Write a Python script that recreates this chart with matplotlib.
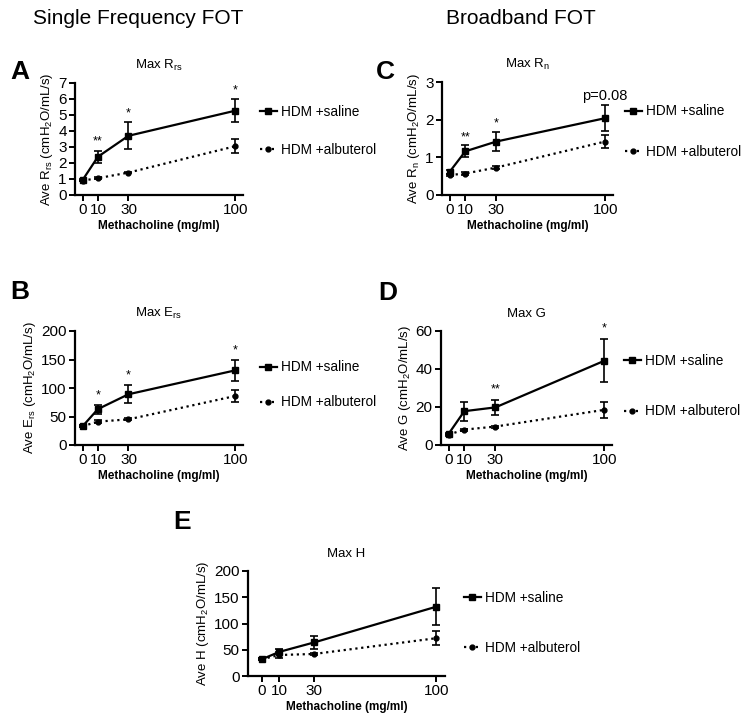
import numpy as np
import matplotlib
matplotlib.use('Agg')
import matplotlib.pyplot as plt
from matplotlib.lines import Line2D

plt.rcParams['font.family'] = ['Liberation Sans', 'DejaVu Sans']
plt.rcParams['mathtext.default'] = 'regular'

W, H = 743, 719

# methacholine doses (mg/ml)
dose = [0, 10, 30, 100]
xticks = [0, 10, 30, 100]

# A: Max Rrs
rrs_sal = [0.94, 2.39, 3.70, 5.27]
rrs_sal_err = [0.08, 0.37, 0.84, 0.72]
rrs_alb = [0.90, 1.05, 1.40, 3.05]
rrs_alb_err = [0.05, 0.05, 0.05, 0.42]
rrs_stars = ['', '**', '*', '*']

# B: Max Ers
ers_sal = [33, 63, 89, 131]
ers_sal_err = [2, 8, 16, 19]
ers_alb = [33, 41, 45, 86]
ers_alb_err = [2, 2, 2, 10]
ers_stars = ['', '*', '*', '*']

# C: Max Rn
rn_sal = [0.62, 1.16, 1.42, 2.04]
rn_sal_err = [0.05, 0.16, 0.26, 0.35]
rn_alb = [0.53, 0.57, 0.73, 1.42]
rn_alb_err = [0.03, 0.05, 0.03, 0.17]
rn_stars = ['', '**', '*', 'p=0.08']

# D: Max G
g_sal = [6, 17.8, 19.8, 44.3]
g_sal_err = [0.5, 5.0, 3.8, 11.3]
g_alb = [5.5, 8.1, 9.7, 18.5]
g_alb_err = [0.5, 0.5, 0.5, 4.2]
g_stars = ['', '', '**', '*']

# E: Max H
h_sal = [32, 46, 64, 132]
h_sal_err = [2, 5, 13, 35]
h_alb = [32, 40, 42, 72]
h_alb_err = [2, 5, 2, 13]
h_stars = ['', '', '', '']

labels = ['HDM +saline', 'HDM +albuterol']


def ax_px(left, top, right, bottom):
    return [left / W, (H - bottom) / H, (right - left) / W, (bottom - top) / H]


def panel(fig, rect, title, ylabel, sal, sal_err, alb, alb_err, stars,
          ylim, ystep, xlim, star_off, leg_x, leg_y, leg_space):
    ax = fig.add_axes(rect)
    ax.errorbar(dose, sal, yerr=sal_err, color='black', lw=1.6, marker='s',
                ms=4.5, capsize=3, elinewidth=1.2, capthick=1.2)
    ax.errorbar(dose, alb, yerr=alb_err, color='black', lw=1.6, ls=':', marker='o',
                ms=3.5, capsize=3, elinewidth=1.2, capthick=1.2)
    for x, y, e, s in zip(dose, sal, sal_err, stars):
        if s:
            ax.text(x, y + e + star_off, s, ha='center', va='bottom',
                    fontsize=9 if s != 'p=0.08' else 10.5)
    ax.set_xlim(*xlim)
    ax.set_ylim(*ylim)
    ax.set_xticks(xticks)
    ax.set_yticks(np.arange(ylim[0], ylim[1] + ystep / 2, ystep))
    for sp in ['top', 'right']:
        ax.spines[sp].set_visible(False)
    for sp in ['left', 'bottom']:
        ax.spines[sp].set_linewidth(1.6)
    ax.tick_params(direction='out', length=4, width=1.4, labelsize=11, pad=2)
    ax.set_title(title, fontsize=9.5, pad=10)
    ax.set_ylabel(ylabel, fontsize=9.5, labelpad=2)
    ax.set_xlabel('Methacholine (mg/ml)', fontsize=8.5, fontweight='bold', labelpad=2)
    handles = [Line2D([], [], color='black', lw=1.6, marker='s', ms=4.5),
               Line2D([], [], color='black', lw=1.6, ls=':', marker='o', ms=3.5)]
    ax.legend(handles, labels, loc='upper left', bbox_to_anchor=(leg_x, leg_y),
              frameon=False, fontsize=9.8, handlelength=1.2, handletextpad=0.3,
              labelspacing=leg_space, borderaxespad=0)
    return ax


fig = plt.figure(figsize=(W / 100, H / 100), dpi=100)

panel(fig, ax_px(75, 83, 243, 195), 'Max R$_{rs}$', 'Ave R$_{rs}$ (cmH$_2$O/mL/s)',
      rrs_sal, rrs_sal_err, rrs_alb, rrs_alb_err, rrs_stars,
      (0, 7), 1, (-5, 105), 0.2, 1.07, 0.85, 1.75)
panel(fig, ax_px(75, 331, 243, 445), 'Max E$_{rs}$', 'Ave E$_{rs}$ (cmH$_2$O/mL/s)',
      ers_sal, ers_sal_err, ers_alb, ers_alb_err, ers_stars,
      (0, 200), 50, (-5, 105), 6, 1.07, 0.79, 1.55)
panel(fig, ax_px(442, 82, 613, 195), 'Max R$_{n}$', 'Ave R$_{n}$ (cmH$_2$O/mL/s)',
      rn_sal, rn_sal_err, rn_alb, rn_alb_err, rn_stars,
      (0, 3), 1, (-5, 105), 0.06, 1.04, 0.85, 1.95)
panel(fig, ax_px(441, 331, 612, 445), 'Max G', 'Ave G (cmH$_2$O/mL/s)',
      g_sal, g_sal_err, g_alb, g_alb_err, g_stars,
      (0, 60), 20, (-5, 105), 2.5, 1.04, 0.85, 2.7)
panel(fig, ax_px(248, 571, 445, 676), 'Max H', 'Ave H (cmH$_2$O/mL/s)',
      h_sal, h_sal_err, h_alb, h_alb_err, h_stars,
      (0, 200), 50, (-8, 105), 5, 1.07, 0.86, 2.6)

fig.text(138 / W, 1 - 18 / H, 'Single Frequency FOT', ha='center', va='center', fontsize=15)
fig.text(521 / W, 1 - 18 / H, 'Broadband FOT', ha='center', va='center', fontsize=15)

for lab, x, y in [('A', 20, 72), ('B', 20, 292), ('C', 385, 72), ('D', 388, 293), ('E', 182, 522)]:
    fig.text(x / W, 1 - y / H, lab, ha='center', va='center', fontsize=19, fontweight='bold')

fig.savefig('out.png', dpi=100)
